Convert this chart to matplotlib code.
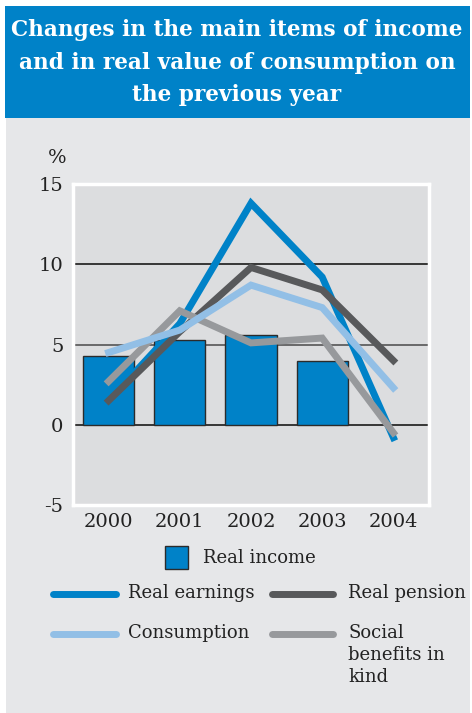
import numpy as np
import matplotlib.pyplot as plt
from matplotlib.lines import Line2D
from matplotlib.patches import Rectangle

plt.rcParams['axes.unicode_minus'] = False

# Dane (%, zmiana r/r)
lata = ['2000', '2001', '2002', '2003', '2004']
dochod_realny = [4.3, 5.3, 5.6, 4.0]          # słupki 2000-2003
zarobki_realne = [1.5, 6.3, 13.8, 9.2, -0.8]
emerytury_realne = [1.5, 5.8, 9.8, 8.4, 4.0]
konsumpcja = [4.5, 5.9, 8.7, 7.3, 2.3]
swiadczenia_socjalne = [2.7, 7.1, 5.1, 5.4, -0.5]

NIEBIESKI = '#0082C8'
CIEMNOSZARY = '#58595B'
JASNONIEBIESKI = '#92BFE6'
SZARY = '#97999C'
TLO = '#E6E7E9'
TLO_WYKRESU = '#DCDDDF'
TEKST = '#222222'

W, H = 472, 713
fig = plt.figure(figsize=(W / 100, H / 100), dpi=100)
fig.patch.set_facecolor('white')


def fx(px):
    return px / W


def fy(py):
    return 1 - py / H


# tło panelu i pasek tytułu
fig.add_artist(Rectangle((fx(6), 0), fx(464), fy(118),
                         transform=fig.transFigure, facecolor=TLO, edgecolor='none', zorder=0))
fig.add_artist(Rectangle((fx(5), fy(118)), fx(465), fy(6) - fy(118),
                         transform=fig.transFigure, facecolor=NIEBIESKI, edgecolor='none', zorder=0))
tytul = ['Changes in the main items of income',
         'and in real value of consumption on',
         'the previous year']
for i, linia in enumerate(tytul):
    fig.text(fx(237), fy(30 + 32.5 * i), linia, ha='center', va='center', color='white',
             fontsize=15.6, fontweight='bold', family='DejaVu Serif')

# obszar wykresu
ax = fig.add_axes([fx(73), fy(505), fx(429 - 73), fy(184) - fy(505)])
ax.set_facecolor(TLO_WYKRESU)
for s in ax.spines.values():
    s.set_color('white')
    s.set_linewidth(2.5)

x = np.arange(len(lata))
for yy, kol in [(10, '#1a1a1a'), (5, '#555555'), (0, '#1a1a1a')]:
    ax.axhline(yy, color=kol, lw=1.2, zorder=1)

ax.bar(x[:len(dochod_realny)], dochod_realny, width=0.72, color=NIEBIESKI,
       edgecolor='#2b2b2b', linewidth=1.0, zorder=2)

ax.plot(x, zarobki_realne, color=NIEBIESKI, lw=5, solid_joinstyle='miter', zorder=3)
ax.plot(x, emerytury_realne, color=CIEMNOSZARY, lw=5, solid_joinstyle='miter', zorder=4)
ax.plot(x, swiadczenia_socjalne, color=SZARY, lw=5, solid_joinstyle='miter', zorder=5)
ax.plot(x, konsumpcja, color=JASNONIEBIESKI, lw=5, solid_joinstyle='miter', zorder=6)

ax.set_xlim(-0.5, 4.5)
ax.set_ylim(-5, 15)
ax.set_yticks([-5, 0, 5, 10, 15])
ax.set_xticks(x)
ax.set_xticklabels(lata)
ax.tick_params(length=0, labelsize=14, colors=TEKST)
ax.tick_params(axis='x', pad=6)
ax.tick_params(axis='y', pad=7)
for lab in ax.get_xticklabels() + ax.get_yticklabels():
    lab.set_family('DejaVu Serif')

fig.text(fx(57), fy(158), '%', ha='center', va='center', fontsize=14,
         family='DejaVu Serif', color=TEKST)

# legenda
fig.add_artist(Rectangle((fx(165), fy(569)), fx(23), fy(546) - fy(569),
                         transform=fig.transFigure, facecolor=NIEBIESKI,
                         edgecolor='#2b2b2b', lw=1.0))
fig.text(fx(203), fy(558), 'Real income', va='center', fontsize=13,
         family='DejaVu Serif', color=TEKST)

pozycje = [
    (53, 116, 594, NIEBIESKI, 128, 'Real earnings'),
    (272, 333, 594, CIEMNOSZARY, 348, 'Real pension'),
    (53, 116, 634, JASNONIEBIESKI, 128, 'Consumption'),
    (272, 333, 634, SZARY, 348, 'Social\nbenefits in\nkind'),
]
for x0, x1, yl, kol, xt, tekst in pozycje:
    fig.add_artist(Line2D([fx(x0), fx(x1)], [fy(yl), fy(yl)], transform=fig.transFigure,
                          color=kol, lw=5, solid_capstyle='round'))
    fig.text(fx(xt), fy(yl - 10), tekst, va='top', fontsize=13, linespacing=1.3,
             family='DejaVu Serif', color=TEKST)

fig.savefig('out.png', dpi=100)
